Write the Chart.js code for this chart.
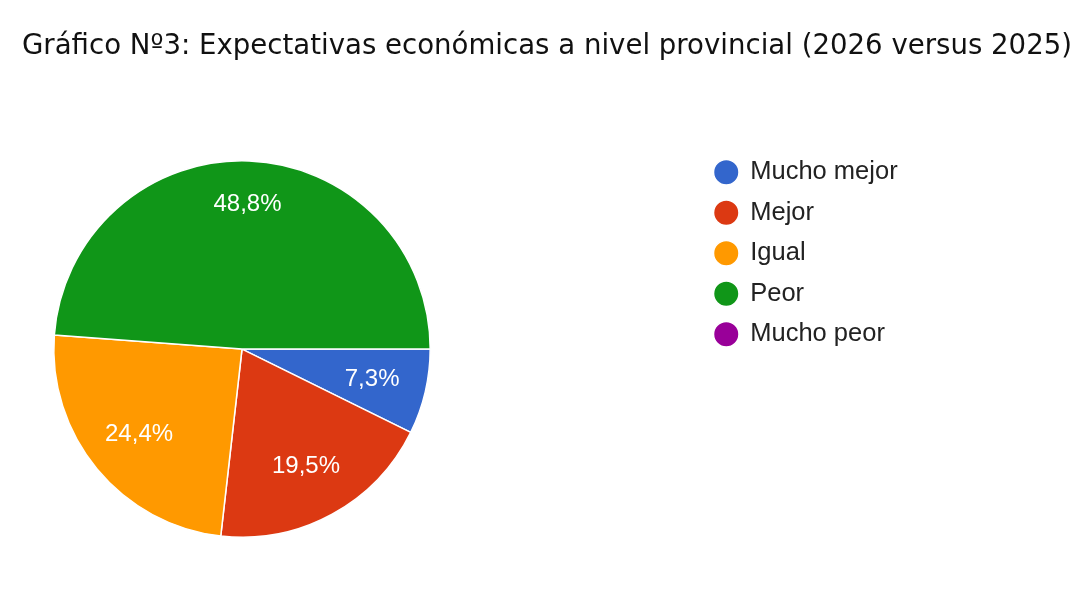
<!DOCTYPE html>
<html>
<head>
<meta charset="utf-8">
<script src="https://cdn.jsdelivr.net/npm/chart.js@4.4.0/dist/chart.umd.min.js"></script>
<style>
html, body { margin: 0; padding: 0; background: #fff; }
#wrap { position: relative; width: 1080px; height: 594px; }
</style>
</head>
<body>
<div id="wrap"><canvas id="chart"></canvas></div>
<script>
var titleText = "Gráfico Nº3: Expectativas económicas a nivel provincial (2026 versus 2025)";
var categories = ["Mucho mejor", "Mejor", "Igual", "Peor", "Mucho peor"];
var percents = [7.3, 19.5, 24.4, 48.8, 0];
var sliceColors = ["#3366cc", "#dc3912", "#ff9900", "#109618", "#990099"];

// google-forms style: title spans the page, legend sits far right of the pie
var placeBoxes = {
	id: 'placeBoxes',
	afterLayout: function(chart) {
		var t = chart.titleBlock;
		t.left = 14; t.right = 1080; t.width = t.right - t.left;
		var lg = chart.legend;
		var dx = 700 - lg.left, dy = 144.5 - lg.top;
		lg.left += dx; lg.top += dy; lg.bottom += dy;
		lg.right = lg.left + 340; lg.width = 340;
	}
};

var sliceLabels = {
	id: 'sliceLabels',
	afterDatasetsDraw: function(chart) {
		var ctx = chart.ctx;
		var meta = chart.getDatasetMeta(0);
		ctx.save();
		ctx.font = '24px "Liberation Sans", Arial, sans-serif';
		ctx.fillStyle = '#ffffff';
		ctx.textAlign = 'center';
		ctx.textBaseline = 'middle';
		meta.data.forEach(function(arc, i) {
			var v = percents[i];
			if (!v) return;
			var p = arc.getProps(['x', 'y', 'startAngle', 'endAngle', 'outerRadius'], true);
			var mid = (p.startAngle + p.endAngle) / 2;
			var r = p.outerRadius * (v > 40 ? 0.77 : 0.71);
			ctx.fillText(v.toFixed(1).replace('.', ',') + '%', p.x + Math.cos(mid) * r, p.y + Math.sin(mid) * r);
		});
		ctx.restore();
	}
};

var ctx = document.getElementById("chart").getContext("2d");
var chart = new Chart(ctx, {
	type: 'pie',
	data: {
		labels: categories,
		datasets: [{
			data: percents,
			backgroundColor: sliceColors,
			borderColor: '#ffffff',
			borderWidth: 1.5
		}]
	},
	options: {
		responsive: true,
		maintainAspectRatio: false,
		animation: false,
		rotation: 90,
		layout: { padding: { left: 53, right: 549, top: 0, bottom: 56 } },
		plugins: {
			title: {
				display: true,
				text: titleText,
				color: '#111111',
				font: { family: '"DejaVu Sans", Verdana, sans-serif', size: 27.6, weight: 'normal' },
				padding: { top: 30, bottom: 97 }
			},
			legend: {
				position: 'right',
				align: 'start',
				maxWidth: 100,
				labels: {
					usePointStyle: true,
					pointStyle: 'circle',
					boxWidth: 22.5,
					boxHeight: 18,
					padding: 15,
					color: '#222222',
					font: { family: '"Liberation Sans", Arial, sans-serif', size: 25.5 }
				}
			},
			tooltip: { enabled: false }
		}
	},
	plugins: [placeBoxes, sliceLabels]
});
</script>
</body>
</html>
